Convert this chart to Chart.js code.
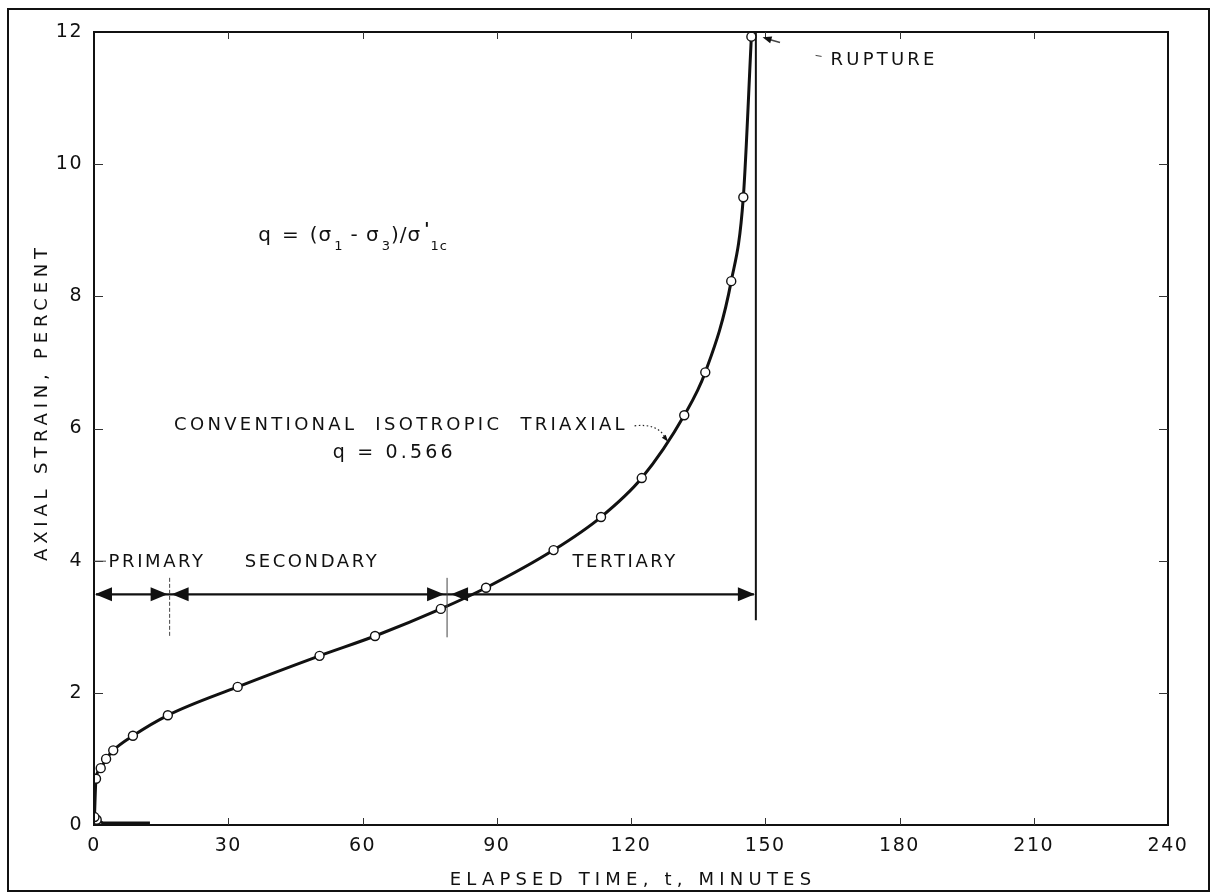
<!DOCTYPE html>
<html>
<head>
<meta charset="utf-8">
<script src="https://cdn.jsdelivr.net/npm/chart.js@4/dist/chart.umd.min.js"></script>
<style>
  html, body { margin: 0; padding: 0; background: #fff; }
  #wrap { width: 1217px; height: 892px; }
</style>
</head>
<body>
<div id="wrap"><canvas id="creep" width="1217" height="892"></canvas></div>
<script>
// Creep test: axial strain vs elapsed time, conventional isotropic triaxial, q = 0.566
const elapsedMinutes = [0.1, 0.45, 1.5, 2.7, 4.3, 8.7, 16.5, 32.1, 50.4, 62.8, 77.5, 87.6, 102.7, 113.3, 122.4, 131.9, 136.6, 142.4, 145.1, 146.9];
const axialStrainPct = [0.12, 0.70, 0.86, 1.00, 1.13, 1.35, 1.66, 2.09, 2.56, 2.86, 3.27, 3.59, 4.16, 4.66, 5.25, 6.20, 6.85, 8.23, 9.50, 11.93];

// initial loading trace along the time axis
const loadingMinutes = [0.6, 2.0, 12.5];
const loadingStrain = [0.08, 0.03, 0.03];

// rupture marker
const ruptureMinutes = [147.9, 147.9];
const ruptureStrain = [3.1, 12];

// creep stage boundaries (minutes) and names
const stageBounds = [0, 16.9, 78.9, 147.9];
const stageNames = ['PRIMARY', 'SECONDARY', 'TERTIARY'];

const xTickValues = [0, 30, 60, 90, 120, 150, 180, 210, 240];
const yTickValues = [0, 2, 4, 6, 8, 10, 12];

const FONT = '"DejaVu Sans", "Liberation Sans", sans-serif';

// annotation placement in data units
const notes = {
  stageArrowStrain: 3.49,
  stageTickLow: 2.84,
  stageTickHigh: 3.74,
  stageLabelStrain: 3.98,
  stageLabelMinutes: [14.1, 48.7, 118.7],
  curveLabel: { t: 68.6, s: 6.05 },
  qLabel: { t: 67.1, s: 5.63 },
  leaderFrom: [120.8, 6.04],
  leaderCtrl: [126.0, 6.08],
  leaderTo: [128.3, 5.80],
  formula: { t: 36.7, s: 8.91 },
  rupture: { t: 164.6, s: 11.57 },
  ruptureArrowFrom: [153.3, 11.84],
  ruptureArrowTo: [149.4, 11.92]
};

const toXY = (xs, ys) => xs.map((x, i) => ({ x, y: ys[i] }));

function label(ctx, text, x, y, size, spacing, align) {
  ctx.save();
  ctx.font = size + 'px ' + FONT;
  ctx.letterSpacing = spacing + 'px';
  ctx.fillStyle = '#111';
  ctx.textAlign = align || 'center';
  ctx.textBaseline = 'middle';
  ctx.fillText(text, x, y);
  ctx.restore();
}

function head(ctx, tipX, tipY, dir, len, half) {
  ctx.beginPath();
  ctx.moveTo(tipX, tipY);
  ctx.lineTo(tipX - dir * len, tipY - half);
  ctx.lineTo(tipX - dir * len, tipY + half);
  ctx.closePath();
  ctx.fill();
}

const paperPlugin = {
  id: 'paper',
  beforeDraw(chart) {
    const ctx = chart.ctx;
    ctx.save();
    ctx.fillStyle = '#fff';
    ctx.fillRect(0, 0, chart.width, chart.height);
    ctx.strokeStyle = '#111';
    ctx.lineWidth = 2;
    ctx.strokeRect(8, 9, chart.width - 16, chart.height - 10);
    ctx.restore();
    ctx.letterSpacing = '1.5px';
  },
  afterDraw(chart) {
    const ctx = chart.ctx;
    const xs = chart.scales.x, ys = chart.scales.y;
    const a = chart.chartArea;
    const px = v => xs.getPixelForValue(v);
    const py = v => ys.getPixelForValue(v);

    ctx.save();
    ctx.letterSpacing = '0px';
    // plot frame
    ctx.strokeStyle = '#111';
    ctx.lineWidth = 2;
    ctx.strokeRect(a.left, a.top, a.right - a.left, a.bottom - a.top);

    // inward tick marks on all four sides
    ctx.lineWidth = 1;
    ctx.strokeStyle = '#333';
    xTickValues.slice(1, -1).forEach(v => {
      const x = Math.round(px(v)) + 0.5;
      ctx.beginPath();
      ctx.moveTo(x, a.bottom); ctx.lineTo(x, a.bottom - 7);
      ctx.moveTo(x, a.top); ctx.lineTo(x, a.top + 7);
      ctx.stroke();
    });
    yTickValues.slice(1, -1).forEach(v => {
      const y = Math.round(py(v)) + 0.5;
      ctx.beginPath();
      ctx.moveTo(a.left, y); ctx.lineTo(a.left + 9, y);
      ctx.moveTo(a.right, y); ctx.lineTo(a.right - 9, y);
      ctx.stroke();
    });

    // creep stage arrows
    const yArr = py(notes.stageArrowStrain);
    const b = stageBounds.map(px);
    ctx.fillStyle = '#111';
    ctx.strokeStyle = '#111';
    ctx.lineWidth = 2.2;
    ctx.beginPath();
    ctx.moveTo(b[0] + 2, yArr); ctx.lineTo(b[3] - 2, yArr);
    ctx.stroke();
    head(ctx, b[0] + 1, yArr, -1, 17, 7);
    head(ctx, b[1] - 2, yArr, 1, 17, 7);
    head(ctx, b[1] + 2, yArr, -1, 17, 7);
    head(ctx, b[2] - 3, yArr, 1, 17, 7);
    head(ctx, b[2] + 4, yArr, -1, 17, 7);
    head(ctx, b[3] - 1, yArr, 1, 17, 7);

    // stage boundary marks
    ctx.lineWidth = 1;
    ctx.strokeStyle = '#444';
    [b[1], b[2]].forEach((x, i) => {
      ctx.save();
      if (i === 0) ctx.setLineDash([4, 2]);
      ctx.beginPath();
      ctx.moveTo(x, py(notes.stageTickHigh));
      ctx.lineTo(x, py(notes.stageTickLow));
      ctx.stroke();
      ctx.restore();
    });

    // stage names
    stageNames.forEach((n, i) => {
      label(ctx, n, px(notes.stageLabelMinutes[i]), py(notes.stageLabelStrain), 18, 2.6);
    });
    // y tick mark continuing into PRIMARY label
    ctx.beginPath();
    ctx.moveTo(a.left, py(4) + 0.5); ctx.lineTo(a.left + 12, py(4) + 0.5);
    ctx.stroke();

    // curve label and dotted leader
    label(ctx, 'CONVENTIONAL  ISOTROPIC  TRIAXIAL', px(notes.curveLabel.t), py(notes.curveLabel.s), 18, 3.3);
    label(ctx, 'q = 0.566', px(notes.qLabel.t), py(notes.qLabel.s), 19, 3.2);
    ctx.save();
    ctx.setLineDash([1.5, 2.5]);
    ctx.lineWidth = 1.2;
    ctx.strokeStyle = '#222';
    ctx.beginPath();
    ctx.moveTo(px(notes.leaderFrom[0]), py(notes.leaderFrom[1]));
    ctx.quadraticCurveTo(px(notes.leaderCtrl[0]), py(notes.leaderCtrl[1]),
                         px(notes.leaderTo[0]) - 3, py(notes.leaderTo[1]) - 4);
    ctx.stroke();
    ctx.restore();
    ctx.save();
    ctx.translate(px(notes.leaderTo[0]), py(notes.leaderTo[1]));
    ctx.rotate(Math.atan2(5, 4));
    ctx.fillStyle = '#111';
    head(ctx, 0, 0, 1, 7, 2.5);
    ctx.restore();

    // stress ratio definition
    {
      let x = px(notes.formula.t);
      const y = py(notes.formula.s);
      const parts = [
        ['q', 0, 10], ['=', 0, 10], ['(σ', 0, 2], ['1', 1, 8], ['- σ', 0, 2], ['3', 1, 1], [')/σ', 0, 3], ["'", 2, 1], ['1', 1, 1], ['c', 1, 0]
      ];
      ctx.save();
      ctx.fillStyle = '#111';
      ctx.textBaseline = 'middle';
      ctx.textAlign = 'left';
      parts.forEach(([t, kind, gap]) => {
        let dy = 0;
        if (kind === 0) { ctx.font = '20px ' + FONT; ctx.letterSpacing = '1px'; }
        if (kind === 1) { ctx.font = '13px ' + FONT; ctx.letterSpacing = '0px'; dy = 10; }
        if (kind === 2) { ctx.font = 'bold 17px ' + FONT; ctx.letterSpacing = '0px'; dy = -6; }
        ctx.fillText(t, x, y + dy);
        x += ctx.measureText(t).width + gap;
      });
      ctx.restore();
    }

    // rupture note
    label(ctx, 'RUPTURE', px(notes.rupture.t), py(notes.rupture.s), 18, 3.2, 'left');
    ctx.lineWidth = 1;
    ctx.beginPath();
    ctx.moveTo(px(notes.rupture.t) - 15, py(notes.rupture.s) - 5);
    ctx.lineTo(px(notes.rupture.t) - 9, py(notes.rupture.s) - 4);
    ctx.stroke();
    {
      const fx = px(notes.ruptureArrowFrom[0]), fy = py(notes.ruptureArrowFrom[1]);
      const tx = px(notes.ruptureArrowTo[0]), ty = py(notes.ruptureArrowTo[1]);
      ctx.lineWidth = 1.5;
      ctx.beginPath();
      ctx.moveTo(fx, fy); ctx.lineTo(tx + 6, ty + 2);
      ctx.stroke();
      ctx.save();
      ctx.translate(tx, ty);
      ctx.rotate(Math.atan2(ty - fy, tx - fx));
      head(ctx, 0, 0, 1, 9, 3.5);
      ctx.restore();
    }

    // axis titles
    label(ctx, 'ELAPSED TIME, t, MINUTES', (a.left + a.right) / 2 + 2, 880, 18, 5.2);
    ctx.save();
    ctx.translate(42, 402);
    ctx.rotate(-Math.PI / 2);
    label(ctx, 'AXIAL STRAIN, PERCENT', 0, 0, 18, 4.8);
    ctx.restore();

    ctx.restore();
  }
};

new Chart(document.getElementById('creep'), {
  type: 'line',
  data: {
    datasets: [
      {
        label: 'Conventional isotropic triaxial, q = 0.566',
        data: toXY(elapsedMinutes, axialStrainPct),
        borderColor: '#111',
        borderWidth: 3,
        cubicInterpolationMode: 'monotone',
        pointRadius: 4.5,
        pointBorderWidth: 1.4,
        pointBackgroundColor: '#fff',
        pointBorderColor: '#111',
        fill: false
      },
      {
        label: 'Loading',
        data: toXY(loadingMinutes, loadingStrain),
        borderColor: '#111',
        borderWidth: 3,
        pointRadius: [4.5, 0, 0],
        pointBorderWidth: 1.4,
        pointBackgroundColor: '#fff',
        pointBorderColor: '#111',
        tension: 0,
        fill: false
      },
      {
        label: 'Rupture',
        data: toXY(ruptureMinutes, ruptureStrain),
        borderColor: '#111',
        borderWidth: 2,
        pointRadius: 0,
        tension: 0,
        fill: false
      }
    ]
  },
  options: {
    responsive: false,
    animation: false,
    events: [],
    layout: { padding: { left: 0, right: 49, top: 32, bottom: 0 } },
    plugins: { legend: { display: false }, tooltip: { enabled: false } },
    scales: {
      x: {
        type: 'linear',
        min: 0, max: 240,
        afterBuildTicks: s => { s.ticks = xTickValues.map(v => ({ value: v })); },
        afterFit: s => { s.height = 67; },
        grid: { display: false, drawTicks: false },
        border: { display: false },
        ticks: { color: '#111', padding: 10, maxRotation: 0, font: { family: FONT, size: 19 } }
      },
      y: {
        type: 'linear',
        min: 0, max: 12,
        afterBuildTicks: s => { s.ticks = yTickValues.map(v => ({ value: v })); },
        afterFit: s => { s.width = 94; },
        grid: { display: false, drawTicks: false },
        border: { display: false },
        ticks: { color: '#111', padding: 11, font: { family: FONT, size: 19 } }
      }
    }
  },
  plugins: [paperPlugin]
});
</script>
</body>
</html>
